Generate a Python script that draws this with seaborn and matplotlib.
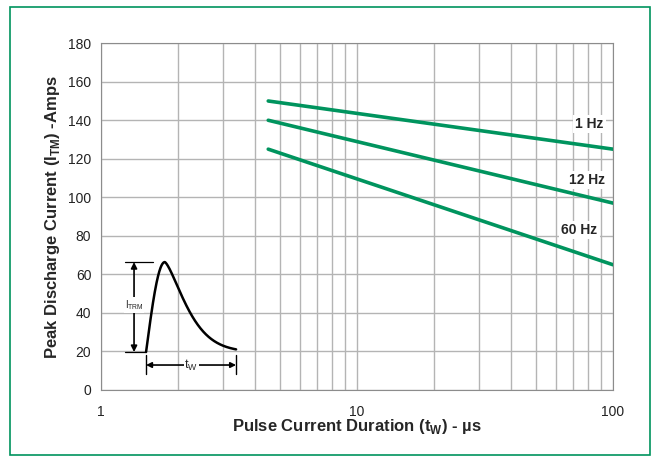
import numpy as np
import pandas as pd
import matplotlib.pyplot as plt
import matplotlib.ticker as mticker
from matplotlib.patches import Rectangle
import seaborn as sns

# Datos
duracion_us = [4.5, 100]
corriente_1hz = [150, 125]
corriente_12hz = [140, 97]
corriente_60hz = [125, 65]
etiquetas = ['1 Hz', '12 Hz', '60 Hz']
pos_etiquetas_x = [81, 79, 74]
pos_etiquetas_y = [138, 109, 83]

verde = '#00945e'
gris_rejilla = '#b4b4b4'

sns.set_style('white')
plt.rcParams['font.family'] = ['Liberation Sans Narrow', 'Liberation Sans', 'DejaVu Sans']

fig = plt.figure(figsize=(6.62, 4.68), dpi=100)
ax = fig.add_axes([0.1526, 0.1667, 0.7734, 0.741])

# marco verde exterior
fig.patches.append(Rectangle((0.0151, 0.0278), 0.967, 0.957, transform=fig.transFigure,
                             fill=False, edgecolor=verde, linewidth=1.2))

df = pd.DataFrame({
    'duracion': duracion_us * 3,
    'corriente': corriente_1hz + corriente_12hz + corriente_60hz,
    'serie': [e for e in etiquetas for _ in duracion_us],
})
sns.lineplot(data=df, x='duracion', y='corriente', hue='serie', palette=[verde] * 3,
             linewidth=2.6, legend=False, ax=ax, zorder=3)

ax.set_xscale('log')
ax.set_xlim(1, 100)
ax.set_ylim(0, 180)
ax.set_yticks(range(0, 181, 20))
ax.xaxis.set_major_formatter(mticker.FuncFormatter(lambda v, p: f'{v:g}'))
ax.xaxis.set_minor_formatter(mticker.NullFormatter())
ax.grid(True, which='both', axis='x', color=gris_rejilla, linewidth=1)
ax.grid(True, which='major', axis='y', color=gris_rejilla, linewidth=1)
for s in ax.spines.values():
    s.set_color('#8c8c8c')
ax.tick_params(axis='both', which='major', direction='inout', length=7, color='#8c8c8c',
               labelsize=10, labelcolor='#222222')
ax.tick_params(axis='x', which='minor', length=0)
ax.tick_params(axis='x', pad=7)

for txt, x, y in zip(etiquetas, pos_etiquetas_x, pos_etiquetas_y):
    ax.text(x, y, txt, ha='center', va='center', fontsize=10, fontweight='bold',
            bbox=dict(facecolor='white', edgecolor='none', pad=1.5), zorder=4)

ax.set_xlabel('Pulse Current Duration (t$_\\mathregular{W}$) - µs', fontsize=12,
              fontweight='bold', labelpad=-1)
ax.set_ylabel('Peak Discharge Current (I$_\\mathregular{TM}$) -Amps', fontsize=12,
              fontweight='bold', labelpad=4)

# esquema del pulso
ins = fig.add_axes([112 / 662, 1 - 378 / 468, 132 / 662, 126 / 468])
ins.set_xlim(0, 1)
ins.set_ylim(0, 1)
ins.axis('off')
ins.patch.set_visible(True)
ins.patch.set_facecolor('white')
ins.set_zorder(5)

u0, up, u1 = 0.258, 0.40, 0.94
v0, v1 = 0.206, 0.92
s = np.linspace(u0, u1, 300)
f = np.where(s < up, np.sin(np.pi / 2 * (s - u0) / (up - u0)),
             np.exp(-(np.clip(s - up, 0, None) / 0.22) ** 1.4))
ins.plot(s, v0 + (v1 - v0) * f, color='black', linewidth=1.8)

ins.plot([0.098, 0.31], [v1, v1], color='black', linewidth=0.9)
ins.plot([0.098, 0.25], [v0, v0], color='black', linewidth=0.9)
ins.annotate('', xy=(0.167, v1), xytext=(0.167, v0),
             arrowprops=dict(arrowstyle='<|-|>', color='black', lw=1.2, shrinkA=0, shrinkB=0,
                             mutation_scale=9))
ins.text(0.167, 0.58, 'I$_\\mathregular{TRM}$', ha='center', va='center', fontsize=7,
         bbox=dict(facecolor='white', edgecolor='none', pad=0.5))
ins.annotate('', xy=(u0, 0.103), xytext=(u1, 0.103),
             arrowprops=dict(arrowstyle='<|-|>', color='black', lw=1.2, shrinkA=0, shrinkB=0,
                             mutation_scale=8))
ins.plot([u0, u0], [0.03, 0.18], color='black', linewidth=1)
ins.plot([u1, u1], [0.03, 0.18], color='black', linewidth=1)
ins.text(0.6, 0.103, 't$_\\mathregular{W}$', ha='center', va='center', fontsize=9,
         bbox=dict(facecolor='white', edgecolor='none', pad=0.5))

fig.savefig('out.png', dpi=100)
